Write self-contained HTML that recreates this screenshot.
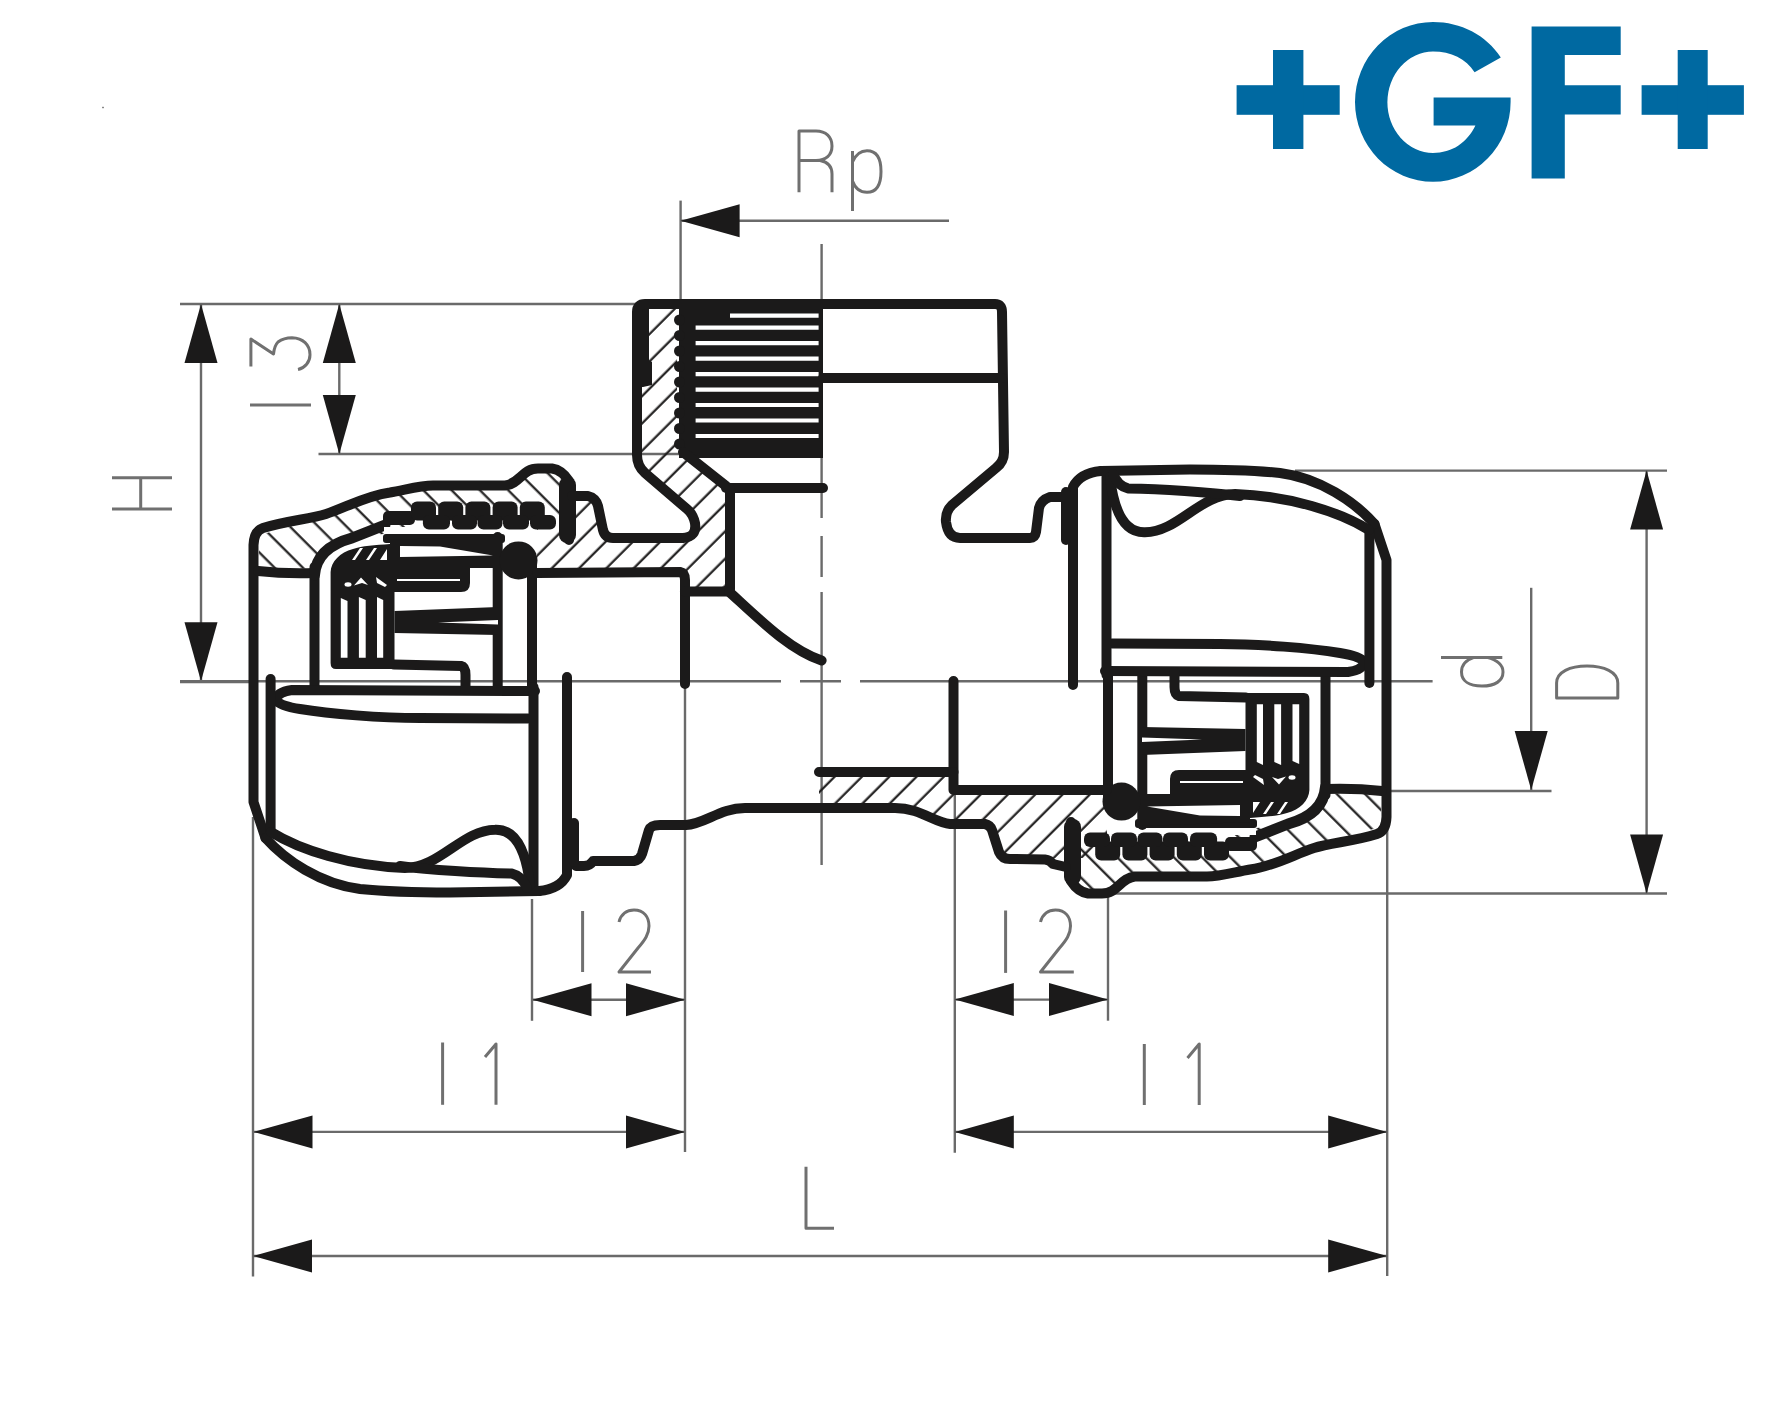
<!DOCTYPE html>
<html><head><meta charset="utf-8"><style>
html,body{margin:0;padding:0;background:#fff;}
body{width:1772px;height:1413px;overflow:hidden;}
svg{display:block;}
</style></head><body>
<svg width="1772" height="1413" viewBox="0 0 1772 1413">
<rect width="1772" height="1413" fill="#fff"/>

<g fill="#0069a1">
<rect x="1236.6" y="85.2" width="103.1" height="29.6"/>
<rect x="1273" y="50" width="30.4" height="99"/>
<rect x="1641.6" y="85.2" width="102.3" height="29.6"/>
<rect x="1677.7" y="50" width="30" height="99"/>
<path d="M1531.6,26.4 H1620.7 V54.9 H1564.8 V85.3 H1620.7 V114.6 H1564.8 V178.4 H1531.6 Z"/>
<path d="M1500.8,57.4 C1486,35 1461,22 1433,22 A78,80 0 0 0 1355,102 A78,80 0 0 0 1433,181.8 A78,80 0 0 0 1510.6,102 V97.5 H1433.6 V125.6 H1475.4 C1467,143 1452,153 1433,153 A46,50.7 0 0 1 1387.4,102.3 A46,50.7 0 0 1 1433,51.6 C1451,51.6 1466,59 1474.6,72.3 Z"/>
</g>
<line x1="680.6" y1="200.6" x2="680.6" y2="304.0" stroke="#6a6a6a" stroke-width="2.4"/>
<line x1="680.6" y1="220.7" x2="949.0" y2="220.7" stroke="#6a6a6a" stroke-width="2.4"/>
<polygon fill="#1b1a1a" points="680.6,220.7 739.6,204.2 739.6,237.2"/>
<line x1="180.0" y1="304.0" x2="640.0" y2="304.0" stroke="#6a6a6a" stroke-width="2.4"/>
<line x1="318.5" y1="454.0" x2="680.0" y2="454.0" stroke="#6a6a6a" stroke-width="2.4"/>
<line x1="180.0" y1="682.0" x2="250.0" y2="682.0" stroke="#6a6a6a" stroke-width="2.4"/>
<line x1="201.0" y1="304.0" x2="201.0" y2="681.3" stroke="#6a6a6a" stroke-width="2.4"/>
<polygon fill="#1b1a1a" points="201.0,304.0 184.5,363.0 217.5,363.0"/>
<polygon fill="#1b1a1a" points="201.0,681.3 184.5,622.3 217.5,622.3"/>
<line x1="339.3" y1="304.0" x2="339.3" y2="454.0" stroke="#6a6a6a" stroke-width="2.4"/>
<polygon fill="#1b1a1a" points="339.3,304.0 322.8,363.0 355.8,363.0"/>
<polygon fill="#1b1a1a" points="339.3,454.0 322.8,395.0 355.8,395.0"/>
<line x1="1295.0" y1="470.6" x2="1667.0" y2="470.6" stroke="#6a6a6a" stroke-width="2.4"/>
<line x1="1108.0" y1="893.5" x2="1667.0" y2="893.5" stroke="#6a6a6a" stroke-width="2.4"/>
<line x1="1646.6" y1="470.6" x2="1646.6" y2="893.5" stroke="#6a6a6a" stroke-width="2.4"/>
<polygon fill="#1b1a1a" points="1646.6,470.6 1630.1,529.6 1663.1,529.6"/>
<polygon fill="#1b1a1a" points="1646.6,893.5 1630.1,834.5 1663.1,834.5"/>
<line x1="1531.2" y1="587.8" x2="1531.2" y2="790.0" stroke="#6a6a6a" stroke-width="2.4"/>
<polygon fill="#1b1a1a" points="1531.2,790.0 1514.7,731.0 1547.7,731.0"/>
<line x1="1385.0" y1="791.0" x2="1551.5" y2="791.0" stroke="#6a6a6a" stroke-width="2.4"/>
<line x1="253.0" y1="817.0" x2="253.0" y2="1276.6" stroke="#6a6a6a" stroke-width="2.4"/>
<line x1="1387.2" y1="800.0" x2="1387.2" y2="1276.0" stroke="#6a6a6a" stroke-width="2.4"/>
<line x1="253.0" y1="1256.0" x2="1387.2" y2="1256.0" stroke="#6a6a6a" stroke-width="2.4"/>
<polygon fill="#1b1a1a" points="253.0,1256.0 312.0,1239.5 312.0,1272.5"/>
<polygon fill="#1b1a1a" points="1387.2,1256.0 1328.2,1239.5 1328.2,1272.5"/>
<line x1="685.0" y1="684.0" x2="685.0" y2="1152.0" stroke="#6a6a6a" stroke-width="2.4"/>
<line x1="253.5" y1="1131.9" x2="685.0" y2="1131.9" stroke="#6a6a6a" stroke-width="2.4"/>
<polygon fill="#1b1a1a" points="253.5,1131.9 312.5,1115.4 312.5,1148.4"/>
<polygon fill="#1b1a1a" points="685.0,1131.9 626.0,1115.4 626.0,1148.4"/>
<line x1="954.8" y1="790.0" x2="954.8" y2="1152.8" stroke="#6a6a6a" stroke-width="2.4"/>
<line x1="954.8" y1="1131.9" x2="1387.2" y2="1131.9" stroke="#6a6a6a" stroke-width="2.4"/>
<polygon fill="#1b1a1a" points="954.8,1131.9 1013.8,1115.4 1013.8,1148.4"/>
<polygon fill="#1b1a1a" points="1387.2,1131.9 1328.2,1115.4 1328.2,1148.4"/>
<line x1="532.0" y1="899.0" x2="532.0" y2="1020.8" stroke="#6a6a6a" stroke-width="2.4"/>
<line x1="532.5" y1="999.7" x2="685.0" y2="999.7" stroke="#6a6a6a" stroke-width="2.4"/>
<polygon fill="#1b1a1a" points="532.5,999.7 591.5,983.2 591.5,1016.2"/>
<polygon fill="#1b1a1a" points="685.0,999.7 626.0,983.2 626.0,1016.2"/>
<line x1="1108.0" y1="897.0" x2="1108.0" y2="1020.7" stroke="#6a6a6a" stroke-width="2.4"/>
<line x1="954.8" y1="999.6" x2="1108.0" y2="999.6" stroke="#6a6a6a" stroke-width="2.4"/>
<polygon fill="#1b1a1a" points="954.8,999.6 1013.8,983.1 1013.8,1016.1"/>
<polygon fill="#1b1a1a" points="1108.0,999.6 1049.0,983.1 1049.0,1016.1"/>
<path d="M821.6,244 V518 M821.6,536 V577 M821.6,592 V865" stroke="#6a6a6a" stroke-width="2.4" fill="none"/>
<path d="M180,681.3 H781 M800,681.3 H841 M860,681.3 H1432.6" stroke="#6a6a6a" stroke-width="2.4" fill="none"/>
<g fill="none" stroke="#707070" stroke-width="3" stroke-linecap="butt" stroke-linejoin="round"><path d="M799,192.3 V131 H816 C826,131 832,137 832,146 C832,155 826,160.5 816,160.5 H799 M820,160.5 C828,162 832,167 832,174 V192.3"/><path d="M852.5,211 V151 M852.5,162 C856,154 861,150.8 867,150.8 C876,150.8 881,158 881,171.5 C881,185 876,192.3 867,192.3 C860,192.3 855,188 852.5,181"/><path d="M112,477.7 H172 M112,509 H172 M140.7,477.7 V509"/><path d="M250,404.9 H311"/><path d="M250.9,366.4 V339.1 L273.5,354 C274,349 275,345 278,342 C282,339 287,337.7 292,337.7 C303,338 310,345 310,354.7 C310,362 305,368 298,369.5"/><path d="M582.6,911 V972"/><path d="M619,922 C621,914 627,910 634,910 C644,910 649,917 649,926 C649,934 645,940 638,948 L619,972 H651"/><path d="M1005.6,910.5 V972.9"/><path d="M1040.5,922 C1042.5,914 1048.5,910 1055.5,910 C1065.5,910 1070.5,917 1070.5,926 C1070.5,934 1066.5,940 1059.5,948 L1040.5,972 H1073.8"/><path d="M442.6,1042.5 V1104.8"/><path d="M485,1057 L496,1044 V1104.8"/><path d="M1144.3,1044 V1105"/><path d="M1187.5,1058 L1199.2,1044 V1105"/><path d="M806,1166.8 V1228.2 H834"/><path d="M1441,657.4 H1502.3 M1487,657.4 C1497,660 1503,665 1503,672 C1503,681 1495,686 1482,686 C1469,686 1461.5,681 1461.5,672 C1461.5,665 1466,660 1474,657.4"/><path d="M1556.6,698 V683 C1556.6,672 1570,666 1587,666 C1604,666 1617.8,672 1617.8,683 V698 Z"/></g>
<rect x="102" y="106.8" width="2" height="1.4" fill="#888"/>
<defs>
<pattern id="hb" patternUnits="userSpaceOnUse" width="19.3" height="19.3" patternTransform="rotate(45)">
<line x1="0.7" y1="0" x2="0.7" y2="19.3" stroke="#1b1a1a" stroke-width="2.2"/><line x1="20" y1="0" x2="20" y2="19.3" stroke="#1b1a1a" stroke-width="2.2"/>
</pattern>
<pattern id="hs" patternUnits="userSpaceOnUse" width="20" height="20" patternTransform="rotate(-45)">
<line x1="12.7" y1="0" x2="12.7" y2="20" stroke="#1b1a1a" stroke-width="2.2"/>
</pattern>
</defs>

<!-- left body hatch -->
<path fill="url(#hb)" d="M537,529 L576,529 L576,497 L594,497 L598,506 L604,533 L612,538 L685,538 L695,525 L687,509 L645,473 L637,455 L637,304 L677,304 L677,452 L726,486 L730,489 L730,591.5 L685,591.5 L685,573 L537,573 Z"/>
<!-- bottom body hatch -->
<path fill="url(#hb)" d="M819,772 L953.5,772 L953.5,790 L1107,790 L1107,858 L1002,858 L986,824 L950,824 L895,808 L819,808 Z"/>

<g id="conn">
<!-- shell hatch -->
<path fill="url(#hs)" d="M258,566 L260,535 L291,526 L326,518 L358,506 L390,496 L433,489 L507,489 L530,473 L552,473 L562,484 L562,529 L400,529 L388,533 L352,540 L330,548 L314,568 L258,571 Z"/>
<!-- body hatch right of bar -->

<g fill="none" stroke="#1b1a1a" stroke-width="10" stroke-linecap="round" stroke-linejoin="round">
<!-- outer cap -->
<path d="M265.5,838 L253.5,802 L253.5,545 Q254,531 263,528 C285,521 310,519 326,514 C345,508 365,496 390,492.5 C405,490 420,485.5 433,485.5 L505,485.5 C520,484 522,468.5 538,468.5 L552,468.5 Q562,470 569,481 L569,540"/>
<path d="M258,571 Q285,574 314.5,573"/>
<path d="M314.5,567 V687"/>
<path stroke-width="11" d="M314.5,575 C316,556 330,544 352,538 L385,525"/>
<!-- spring band -->
<!-- collet back wall -->
<path d="M497.7,537 V690"/>
<!-- pipe stop wall -->
<path d="M532,560 V690"/>
<!-- bottom thick line -->
<path d="M535,691 L292,690 Q277,692 276,700 Q280,706 300,709 C330,714 380,718 420,718 L528,718.5"/>
<path d="M270.6,679 V833"/>
<path d="M533.5,687 V890"/>
<path d="M567,677 V875 Q560,889 539,891"/>
<path d="M265.5,838 C285,860 320,884 360,889 C390,892 420,892.5 450,892.5 L539,891"/>
<path d="M271,832 C300,850 350,866 405,868 C440,868 462,830 495,829.7 C515,829 526,850 530,885"/>
<path d="M400,866 C430,870 480,873 512,873.6 Q522,876 527,888"/>
<!-- collet arms -->
<path d="M394,664.5 L461,666 Q465.5,667 465.5,675 V690"/>
</g>
<!-- spring -->
<g fill="#1b1a1a">
<rect x="383" y="511" width="32" height="14" rx="5"/>
<rect x="411.0" y="501.5" width="25" height="19" rx="6"/>
<rect x="438.2" y="501.5" width="25" height="19" rx="6"/>
<rect x="465.4" y="501.5" width="25" height="19" rx="6"/>
<rect x="492.6" y="501.5" width="25" height="19" rx="6"/>
<rect x="519.8" y="501.5" width="25" height="19" rx="6"/>
<rect x="422.9" y="515" width="27.1" height="14.5" rx="6"/>
<rect x="452.0" y="515" width="25.0" height="14.5" rx="6"/>
<rect x="477.5" y="515" width="25.0" height="14.5" rx="6"/>
<rect x="503.0" y="515" width="26.0" height="14.5" rx="6"/>
<rect x="530.0" y="515" width="26.0" height="14.5" rx="6"/>
<rect x="383" y="534" width="122" height="9" rx="3"/>
</g>
<!-- thick bar -->
<rect x="559" y="477" width="17" height="66" rx="8" fill="#1b1a1a"/>
<!-- O-ring -->
<circle cx="518.5" cy="560.4" r="19" fill="#1b1a1a"/>
<!-- collet block and top mass -->
<path fill="#1b1a1a" d="M330.6,663 V572 C331,562 340,552 353,549 C362,546 375,545 390,544 L390,540 L498,536 L498,568 L470,568 L470,583 Q470,592 461,592 L394.5,592 L394.5,669 L336,669 Q330.6,669 330.6,663 Z"/>
<g fill="#fff">
<path d="M340.8,598 L347.5,601 V657.7 H340.8 Z"/>
<path d="M358.9,597 L365.7,600 V657.7 H358.9 Z"/>
<path d="M377,597 L383.2,600 V657.7 H377 Z"/>
<path d="M400,546 L440,546.5 L493,555.5 L400,557 Z"/>
<path d="M352,560 L360,548 L363,548 L355,560 Z M366,560 L374,548 L377,548 L369,560 Z M380,560 L387,549 L387,560 Z"/>
</g>
<rect x="384" y="527" width="27" height="6.5" fill="#fff"/>
<path d="M397,580 H460" stroke="#fff" stroke-width="2.2"/>
<g fill="#fff"><ellipse cx="348" cy="584.5" rx="3.5" ry="2.2"/><path d="M354,585.5 L361,577.5 L368,585 L362,583 Z M376,577 L387,585 L385,587 L377,583 Z"/></g>
<!-- middle arm -->
<path fill="#1b1a1a" d="M394.5,611 L498,607 L498,635 L394.5,633 Z"/>
<path fill="#fff" d="M438,622.5 L498,620 L498,624.5 Z"/>
</g>
<use href="#conn" transform="rotate(180 820 681)"/>

<!-- ================= body ================= -->
<!-- threads block -->
<rect x="679" y="304" width="144" height="154" fill="#1b1a1a"/>
<g fill="#1b1a1a"><circle cx="679.5" cy="320.0" r="5.5"/><circle cx="679.5" cy="335.5" r="5.5"/><circle cx="679.5" cy="351.0" r="5.5"/><circle cx="679.5" cy="366.5" r="5.5"/><circle cx="679.5" cy="382.0" r="5.5"/><circle cx="679.5" cy="397.5" r="5.5"/><circle cx="679.5" cy="413.0" r="5.5"/><circle cx="679.5" cy="428.5" r="5.5"/><circle cx="679.5" cy="444.0" r="5.5"/></g>
<path fill="#1b1a1a" d="M637,304 H649 V360 L652,362 V385 L643,387 H637 Z"/>
<g stroke="#fff" stroke-width="4.2">
<path d="M730,315.6 H818.6 M695.6,327.7 H818.6 M695.6,343.1 H818.6 M695.6,358.6 H818.6 M695.6,374.1 H818.6 M695.6,389.6 H818.6 M695.6,405 H818.6 M695.6,420.5 H818.6 M695.6,436 H818.6"/>
</g>
<g fill="none" stroke="#1b1a1a" stroke-width="10" stroke-linecap="round" stroke-linejoin="round">
<path d="M572,496 L588,496 Q596,498 598,506 L603,530 Q605,538 613,538 L683,538 Q697,537 695,523 Q693,514 687,509 L645,473 Q637,466 637,455 L637,312 Q637,304 645,304 L995,304 Q1002,304 1002,312 L1004,452 Q1004,462 996,468 L952,505 Q945,512 946,522 Q948,538 960,538 L1030,538 Q1035,538 1036,532 L1039,508 Q1041,500 1050,497 L1066,497"/>
<path d="M823,378 H1002"/>
<path d="M726,488 H823"/>
<path d="M683,452 L726,486 L730,489 V589"/>
<path d="M537,573 L680,572 Q685,573 685,580 V684"/>
<path d="M685,591.5 H730"/>
<path d="M729.4,592 C760,620 790,650 821.6,660.5"/>
<path d="M576,866 L584,866 Q590,866 593,861 L634,861 Q640,860 642,854 L649,830 Q651,825 660,825 L686,825 C705,824 720,808 745,808 L895,808 C920,808 935,823 950,824 L985,824 Q990,825 992,830 L999,852 Q1002,859 1010,859 L1045,859.5 Q1050,860 1053,864 L1066,867"/>
<path d="M819,772 H953.5 V681"/>
<path d="M953.5,772 V790 H1107"/>
<path d="M574,823 V862"/>
<path d="M1066,492 V540"/>
</g>

</svg></body></html>
